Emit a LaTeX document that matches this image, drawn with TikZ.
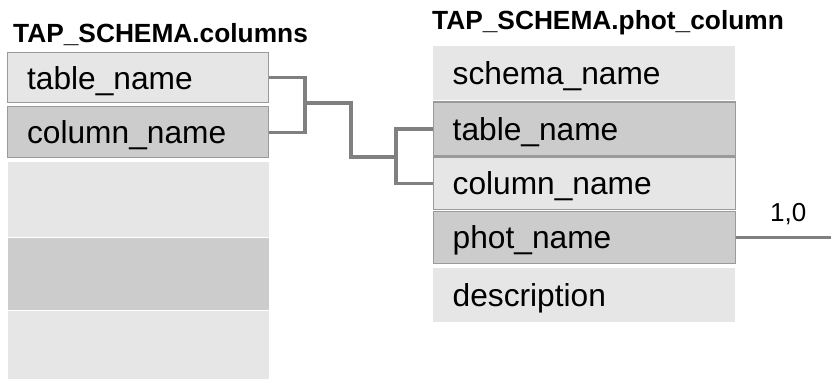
\documentclass[tikz,border=0pt]{standalone}
\usepackage{fontspec}
\setmainfont{Liberation Sans}
\usetikzlibrary{positioning}
\definecolor{rowlight}{HTML}{E6E6E6}
\definecolor{rowdark}{HTML}{CCCCCC}
\definecolor{edgegray}{HTML}{9A9A9A}
\definecolor{linkgray}{HTML}{808080}

\begin{document}
\begin{tikzpicture}[x=1pt,y=-1pt,
			row/.style={fill=rowlight,draw=none,anchor=north west,minimum height=52pt,inner ysep=0pt,inner xsep=19.5pt,text width=222pt,align=left,text height=25pt,text depth=2pt,font=\fontsize{31.7}{36}\selectfont},
			keyrow/.style={row,fill=rowdark},
			framed/.style={draw=edgegray,line width=1.2pt},
			hdr/.style={anchor=base west,inner sep=0pt,font=\fontsize{26.3}{30}\selectfont\bfseries},
			link/.style={draw=linkgray,line width=3.2pt}
			]
			\useasboundingbox (0,0) rectangle (831,378);
			% TAP_SCHEMA.columns
			\node[hdr] (colhdr) at (13,42) {TAP\_SCHEMA.columns};
			\node[row,framed,minimum height=50pt] (ctab) at (7,52) {table\_name};
			\node[keyrow,framed,minimum height=51pt] (ccol) [below=3pt of ctab] {column\_name};
			\node[row,minimum height=75pt] (ce1) [below=3pt of ccol] {};
			\node[keyrow,minimum height=72pt] (ce2) [below=1pt of ce1] {};
			\node[row,minimum height=70pt] (ce3) [below=1pt of ce2] {};
			% TAP_SCHEMA.phot_column
			\node[hdr] (phothdr) at (432,29) {TAP\_SCHEMA.phot\_column};
			\node[row,text width=263pt,minimum height=54pt] (pschema) at (433,46) {schema\_name};
			\node[keyrow,framed,text width=263pt,minimum height=54pt] (ptab) [below=1pt of pschema] {table\_name};
			\node[row,framed,text width=263pt] (pcol) [below=0pt of ptab] {column\_name};
			\node[keyrow,framed,text width=263pt] (pphot) [below=1pt of pcol] {phot\_name};
			\node[row,text width=263pt,minimum height=54pt] (pdesc) [below=4pt of pphot] {description};
			% connectors
			\coordinate (jl) at (305,103);
			\coordinate (jm) at (351,157);
			\coordinate (jr) at (396,157);
			\coordinate (pend) at (831,0);
			\draw[link] (ctab.east) -| (jl) |- (ccol.east);
			\draw[link] (jl) -| (jm) -- (jr);
			\draw[link] (ptab.west) -| (jr) |- (pcol.west);
			\draw[link] (pphot.east) -- node[above=11pt,inner sep=0pt,pos=0.55,font=\fontsize{26}{30}\selectfont] {1,0} (pphot.east -| pend);
		\end{tikzpicture}
\end{document}
